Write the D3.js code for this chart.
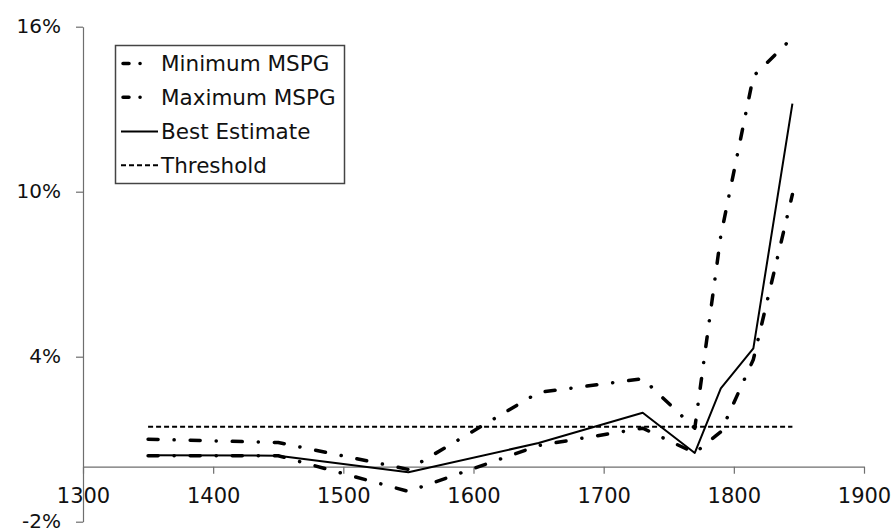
<!DOCTYPE html>
<html>
<head>
<meta charset="utf-8">
<script src="https://cdn.jsdelivr.net/npm/d3@7"></script>
<style>
  body { margin: 0; background: #ffffff; }
  text { font-family: "DejaVu Sans", Verdana, sans-serif; }
</style>
</head>
<body>
<div id="chart"></div>
<script>
// values (percent growth)
var years = [1350, 1450, 1550, 1650, 1730, 1770, 1790, 1815, 1845];
var minMSPG = [0.4, 0.4, -0.9, 0.77, 1.4, 0.5, 1.27, 3.9, 9.9];
var maxMSPG = [1.0, 0.88, -0.1, 2.7, 3.2, 1.4, 8.4, 14.2, 15.6];
var bestEstimate = [0.42, 0.4, -0.2, 0.86, 1.96, 0.5, 2.85, 4.3, 13.2];
var thresholdYears = [1350, 1845];
var thresholdValues = [1.45, 1.45];

var xTicks = [1300, 1400, 1500, 1600, 1700, 1800, 1900];
var yTicks = [-2, 4, 10, 16];
var legendNames = ["Minimum MSPG", "Maximum MSPG", "Best Estimate", "Threshold"];

var width = 894,
    height = 532;

var x = d3.scaleLinear().domain([1300, 1900]).range([83, 864]);
var y = d3.scaleLinear().domain([-2, 16]).range([521.7, 26.7]);

var svg = d3.select('#chart').append('svg')
    .attr('width', width)
    .attr('height', height);

// x axis sits on the 0% line
var xAxis = svg.append('g')
    .attr('transform', 'translate(0,' + y(0) + ')')
    .call(d3.axisBottom(x).tickValues(xTicks).tickFormat(d3.format('d'))
        .tickSize(7).tickPadding(14).tickSizeOuter(0));

var yAxis = svg.append('g')
    .attr('transform', 'translate(' + x(1300) + ',0)')
    .call(d3.axisLeft(y).tickValues(yTicks).tickFormat(function(d) { return d + '%'; })
        .tickSize(7).tickPadding(15).tickSizeOuter(0));

svg.selectAll('.domain, .tick line')
    .style('stroke', '#6e6e6e')
    .style('stroke-width', 1.2);

svg.selectAll('.tick text')
    .style('font-size', '21px')
    .style('fill', '#111');

// keep the -2% label inside the frame
yAxis.selectAll('.tick text')
    .style('font-size', '20px')
    .attr('dy', '0.3em');

var line = d3.line()
    .x(function(d) { return x(d[0]); })
    .y(function(d) { return y(d[1]); });

function pairs(xs, vs) {
    return xs.map(function(v, i) { return [v, vs[i]]; });
}

// styles for the four series
var dashDot = '10,16,0.1,16';
var styles = [
    { w: 3.5, dash: dashDot, cap: 'round' },
    { w: 3.5, dash: dashDot, cap: 'round' },
    { w: 2, dash: null, cap: 'butt' },
    { w: 2, dash: '5,3', cap: 'butt' }
];

var series = [
    pairs(years, minMSPG),
    pairs(years, maxMSPG),
    pairs(years, bestEstimate),
    pairs(thresholdYears, thresholdValues)
];

svg.append('g').attr('class', 'lines')
    .selectAll('path')
    .data(series)
    .enter().append('path')
    .attr('d', line)
    .style('fill', 'none')
    .style('stroke', '#000')
    .style('stroke-linejoin', 'round')
    .style('stroke-width', function(d, i) { return styles[i].w; })
    .style('stroke-linecap', function(d, i) { return styles[i].cap; })
    .style('stroke-dasharray', function(d, i) { return styles[i].dash; });

// legend box
var legend = svg.append('g').attr('class', 'legend');

legend.append('rect')
    .attr('x', 115.5)
    .attr('y', 45.5)
    .attr('width', 229)
    .attr('height', 138)
    .style('fill', '#fff')
    .style('stroke', '#444')
    .style('stroke-width', 1.5);

var rowY = [63.5, 97.3, 131.5, 165.3];

legend.selectAll('.key')
    .data(legendNames)
    .enter().append('path')
    .attr('class', 'key')
    .attr('d', function(d, i) {
        var x2 = i < 2 ? 145 : 158;
        var x1 = i < 2 ? 123 : 121;
        return 'M' + x1 + ',' + rowY[i] + 'H' + x2;
    })
    .style('fill', 'none')
    .style('stroke', '#000')
    .style('stroke-width', function(d, i) { return styles[i].w; })
    .style('stroke-linecap', function(d, i) { return styles[i].cap; })
    .style('stroke-dasharray', function(d, i) { return i < 2 ? '6,11,0.1,30' : styles[i].dash; });

legend.selectAll('.label')
    .data(legendNames)
    .enter().append('text')
    .attr('class', 'label')
    .attr('x', 161)
    .attr('y', function(d, i) { return rowY[i] + 7.6; })
    .style('font-size', '21.5px')
    .style('fill', '#111')
    .text(function(d) { return d; });
</script>
</body>
</html>
